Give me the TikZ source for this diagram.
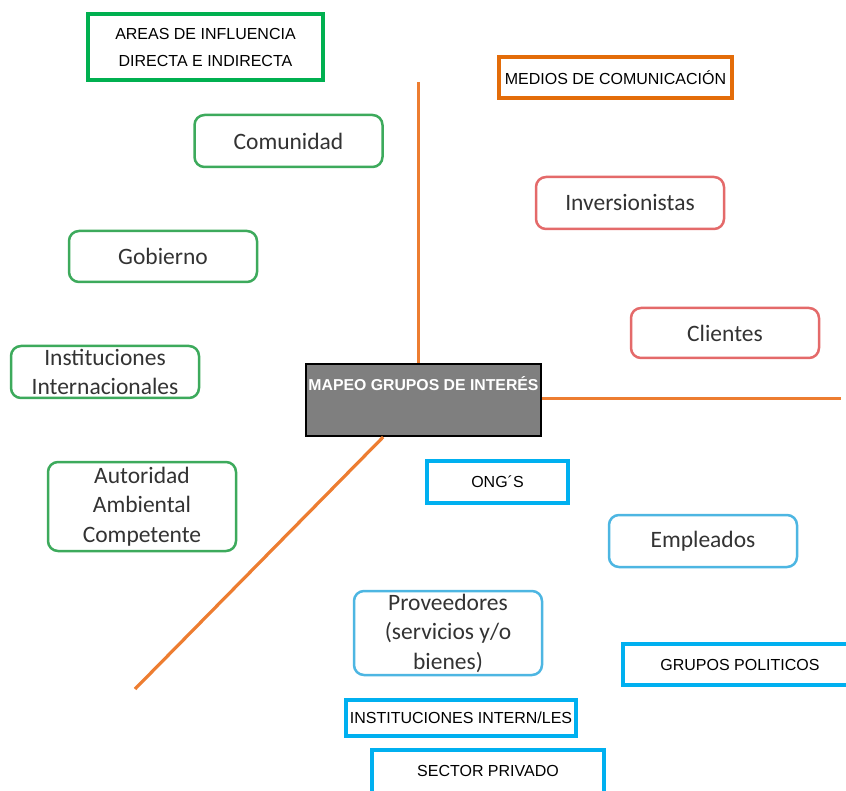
\documentclass[tikz,border=0pt]{standalone}
\usepackage{fontspec}
\setmainfont{Liberation Sans}
\newfontfamily\calib{Carlito}
\usetikzlibrary{calc}
\definecolor{sqgreen}{HTML}{00B050}
\definecolor{rgreen}{HTML}{3DAA5C}
\definecolor{rred}{HTML}{E46A6A}
\definecolor{rblue}{HTML}{4DB6E2}
\definecolor{sqcyan}{HTML}{00B0F0}
\definecolor{sqorange}{HTML}{E36C09}
\definecolor{lineor}{HTML}{ED7D31}
\definecolor{txtgray}{HTML}{333333}
\definecolor{mapgray}{HTML}{7F7F7F}
\tikzset{
  sqbox/.style={draw, line width=3.5pt, fill=white, inner sep=0pt, align=center,
    font=\fontsize{16}{27}\selectfont, text=black},
  rbox/.style={draw, line width=2.5pt, rounded corners=10pt, fill=white, inner sep=0pt,
    align=center, minimum width=188pt, font=\calib\fontsize{23.5}{29.5}\selectfont, text=txtgray},
  axis/.style={draw=lineor, line width=3.2pt},
}
\begin{document}
\begin{tikzpicture}[x=1pt,y=-1pt]
\useasboundingbox (0,0) rectangle (846,791);
% axes
\coordinate (vt) at (418.5,82);
\coordinate (hr) at (841,398.5);
\coordinate (dg) at (135,689);
% central box
\node[draw=black, line width=2pt, fill=mapgray, minimum width=235pt, minimum height=72pt, inner sep=0pt] (mapeo) at (423.5,400) {};
\node[font=\bfseries\fontsize{15.8}{18}\selectfont, text=white, inner sep=0pt] (mapeot) at (423.5,384) {MAPEO GRUPOS DE INTERÉS};
\draw[axis] (vt) -- (vt |- mapeo.north);
\draw[axis] (mapeo.east |- hr) -- (hr);
\draw[axis] ($(mapeo.south west)!0.33!(mapeo.south east)$) -- (dg);
% green
\node[sqbox, draw=sqgreen, minimum width=235pt, minimum height=66pt] (areas) at (205.5,47) {AREAS DE INFLUENCIA\\DIRECTA E INDIRECTA};
\node[rbox, draw=rgreen, minimum height=52pt] (comunidad) at (288.5,141) {Comunidad};
\node[rbox, draw=rgreen, minimum height=51pt] (gobierno) at (163,256.5) {Gobierno};
\node[rbox, draw=rgreen, minimum height=52pt] (instint) at (105,372) {Instituciones\\Internacionales};
\node[rbox, draw=rgreen, minimum height=89pt] (autoridad) at (142,506.5) {Autoridad\\Ambiental\\Competente};
% orange / red
\node[sqbox, draw=sqorange, minimum width=233pt, minimum height=41pt] (medios) at (615.5,77.5) {MEDIOS DE COMUNICACIÓN};
\node[rbox, draw=rred, minimum height=52pt] (inversion) at (630,203) {Inversionistas};
\node[rbox, draw=rred, minimum height=50pt] (clientes) at (725,333) {Clientes};
% blue
\node[sqbox, draw=sqcyan, line width=4pt, minimum width=141pt, minimum height=42pt] (ong) at (497.5,482) {ONG´S};
\node[rbox, draw=rblue, minimum height=52pt] (empleados) at (703,541) {Empleados};
\node[rbox, draw=rblue, minimum height=84pt] (proveedores) at (448,633) {Proveedores\\(servicios y/o\\bienes)};
\node[sqbox, draw=sqcyan, minimum width=234pt, minimum height=41pt] (grupos) at (740,664.5) {GRUPOS POLITICOS};
\node[sqbox, draw=sqcyan, minimum width=230pt, minimum height=36pt] (instintern) at (461,718) {INSTITUCIONES INTERN/LES};
\node[sqbox, draw=sqcyan, minimum width=232pt, minimum height=48pt] (sector) at (488,774) {\raisebox{6pt}{SECTOR PRIVADO}};
\end{tikzpicture}
\end{document}
